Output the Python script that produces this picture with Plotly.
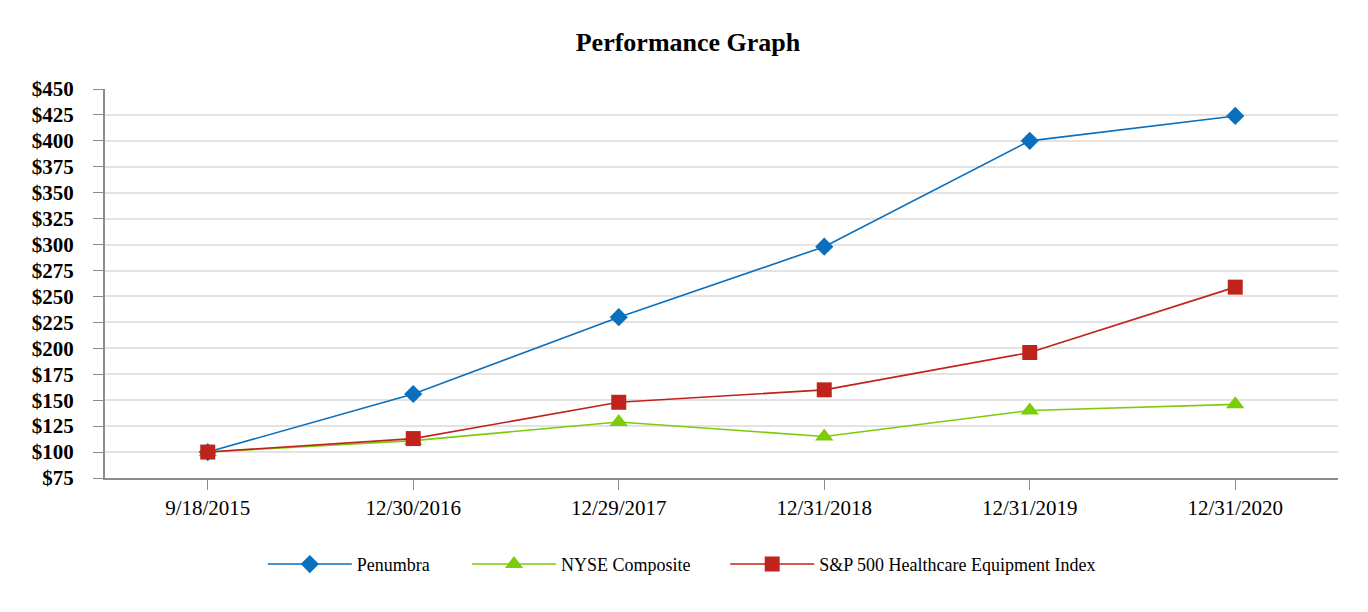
import plotly.graph_objects as go

categories = ["9/18/2015", "12/30/2016", "12/29/2017", "12/31/2018", "12/31/2019", "12/31/2020"]
penumbra = [100, 156, 230, 298, 400, 424]
nyse = [100, 111, 129, 115, 140, 146]
sp_hce = [100, 113, 148, 160, 196, 259]
y_ticks = list(range(75, 451, 25))
y_labels = [f"${v}" for v in y_ticks]

fig = go.Figure()
fig.add_trace(go.Scatter(x=categories, y=penumbra, name="Penumbra", mode="lines+markers",
                         line=dict(color="#0a6fbd", width=1.6),
                         marker=dict(symbol="diamond", size=14, color="#0a6fbd"), legend="legend"))
fig.add_trace(go.Scatter(x=categories, y=nyse, name="NYSE Composite", mode="lines+markers",
                         line=dict(color="#7ccc0a", width=1.6),
                         marker=dict(symbol="triangle-up", size=16, color="#7ccc0a"), legend="legend2"))
fig.add_trace(go.Scatter(x=categories, y=sp_hce, name="S&P 500 Healthcare Equipment Index", mode="lines+markers",
                         line=dict(color="#c0231b", width=1.6),
                         marker=dict(symbol="square", size=15, color="#c0231b"), legend="legend3"))

legend_font = dict(family="Liberation Serif", size=18, color="black")
leg_common = dict(orientation="h", xanchor="left", y=-0.222, yanchor="middle",
                  font=legend_font, itemwidth=84, bgcolor="rgba(0,0,0,0)")

fig.update_layout(
    width=1360, height=604,
    paper_bgcolor="white", plot_bgcolor="white",
    margin=dict(l=97, r=30, t=81, b=134),
    title=dict(text="<b>Performance Graph</b>", x=0.5, xanchor="center", y=1 - 34 / 604, yanchor="middle",
               font=dict(family="Liberation Serif", size=26, color="black")),
    showlegend=True,
    legend=dict(x=0.128, **leg_common),
    legend2=dict(x=0.2936, **leg_common),
    legend3=dict(x=0.503, **leg_common),
    xaxis=dict(type="category", range=[-0.5, 5.5], showgrid=False,
               showline=True, linecolor="#8c8c8c", linewidth=2,
               ticks="outside", ticklen=10, tickcolor="#8c8c8c", tickwidth=1,
               ticklabelstandoff=0,
               tickfont=dict(family="Liberation Serif", size=21, color="black")),
    yaxis=dict(range=[75, 450], tickvals=y_ticks, ticktext=y_labels,
               showgrid=True, gridcolor="#e3e3e3", gridwidth=2,
               showline=True, linecolor="#8c8c8c", linewidth=2,
               ticks="outside", ticklen=10, tickcolor="#8c8c8c", tickwidth=1,
               ticklabelstandoff=15, zeroline=False,
               tickfont=dict(family="Liberation Serif", size=21, color="black", weight="bold")),
)

fig.write_html("out.html")
